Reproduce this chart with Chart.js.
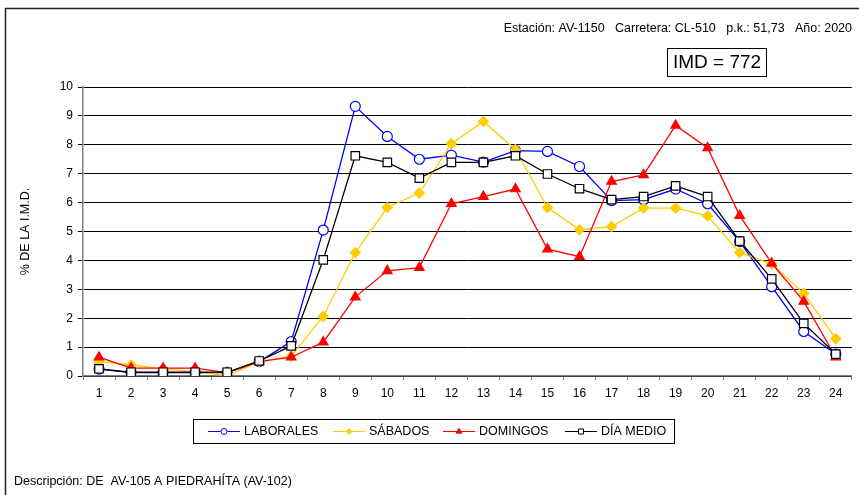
<!DOCTYPE html>
<html>
<head>
<meta charset="utf-8">
<script src="https://cdn.jsdelivr.net/npm/chart.js@4"></script>
<style>
  html, body { margin: 0; padding: 0; background: #fff; }
  #wrap { width: 859px; height: 495px; position: relative; }
</style>
</head>
<body>
<div id="wrap"><canvas id="imdChart" width="859" height="495"></canvas></div>
<script>
// horas del día
const horas = ['1','2','3','4','5','6','7','8','9','10','11','12','13','14','15','16','17','18','19','20','21','22','23','24'];

const laborales = [0.24, 0.12, 0.12, 0.12, 0.12, 0.5, 1.19, 5.05, 9.33, 8.29, 7.5, 7.64, 7.4, 7.8, 7.77, 7.25, 6.07, 6.1, 6.47, 5.96, 4.65, 3.09, 1.54, 0.76];
const sabados = [0.5, 0.38, 0.25, 0.15, 0.0, 0.5, 0.69, 2.06, 4.27, 5.83, 6.33, 8.04, 8.81, 7.83, 5.83, 5.06, 5.17, 5.81, 5.81, 5.54, 4.27, 3.88, 2.86, 1.29];
const domingos = [0.65, 0.27, 0.27, 0.27, 0.12, 0.5, 0.65, 1.17, 2.73, 3.64, 3.75, 5.96, 6.21, 6.47, 4.39, 4.13, 6.73, 6.96, 8.67, 7.89, 5.55, 3.9, 2.58, 0.65];
const diaMedio = [0.25, 0.13, 0.13, 0.13, 0.13, 0.52, 1.04, 4.02, 7.62, 7.39, 6.85, 7.39, 7.39, 7.62, 6.99, 6.48, 6.1, 6.21, 6.58, 6.21, 4.67, 3.36, 1.82, 0.76];

const yTicks = [0, 1, 2, 3, 4, 5, 6, 7, 8, 9, 10];

const cabecera = 'Estación: AV-1150   Carretera: CL-510   p.k.: 51,73   Año: 2020';
const imdTexto = 'IMD = 772';
const descripcion = 'Descripción: DE  AV-105 A PIEDRAHÍTA (AV-102)';

const FONT = '"Liberation Sans", Arial, sans-serif';

// cabecera, caja IMD, leyenda y marco
const decoracion = {
    id: 'decoracion',
    afterDraw(chart) {
        const c = chart.ctx;
        c.save();
        c.strokeStyle = '#222';
        c.lineWidth = 1.5;
        c.beginPath();
        c.moveTo(5.5, 495);
        c.lineTo(5.5, 8.5);
        c.lineTo(859, 8.5);
        c.stroke();

        c.fillStyle = '#000';
        c.font = '12.5px ' + FONT;
        c.textAlign = 'right';
        c.textBaseline = 'middle';
        c.fillText(cabecera, 852, 29);

        c.lineWidth = 1;
        c.strokeStyle = '#000';
        c.strokeRect(667.5, 48.5, 99, 28);
        c.font = '19px ' + FONT;
        c.textAlign = 'center';
        c.fillText(imdTexto, 717, 63);

        c.font = '12.5px ' + FONT;
        c.textAlign = 'left';
        c.fillText(descripcion, 14, 482);

        // leyenda
        c.strokeStyle = '#000';
        c.lineWidth = 1;
        c.strokeRect(193.5, 419.5, 481, 24);
        const posX = [208, 333, 443, 565];
        const cy = 431.5;
        chart.data.datasets.forEach((ds, i) => {
            const x0 = posX[i];
            c.strokeStyle = ds.borderColor;
            c.lineWidth = 1;
            c.beginPath();
            c.moveTo(x0, cy);
            c.lineTo(x0 + 32, cy);
            c.stroke();
            c.fillStyle = ds.pointBackgroundColor;
            c.strokeStyle = ds.pointBorderColor;
            Chart.helpers.drawPoint(c, {
                pointStyle: ds.pointStyle,
                radius: ds.pointRadius * 0.6,
                borderWidth: 1
            }, x0 + 16, cy);
            c.fillStyle = '#000';
            c.font = '12.5px ' + FONT;
            c.textAlign = 'left';
            c.fillText(ds.label, x0 + 36, cy);
        });
        c.restore();
    }
};

function serie(label, data, color, style, fill, radius, order) {
    return {
        label: label,
        data: data,
        borderColor: color,
        backgroundColor: color,
        borderWidth: 1.3,
        pointStyle: style,
        pointRadius: radius,
        pointBackgroundColor: fill,
        pointBorderColor: color,
        pointBorderWidth: 1.2,
        tension: 0,
        order: order
    };
}

new Chart(document.getElementById('imdChart').getContext('2d'), {
    type: 'line',
    data: {
        labels: horas,
        datasets: [
            serie('LABORALES', laborales, '#0000FF', 'circle', '#FFFFFF', 5, 3),
            serie('SÁBADOS', sabados, '#FFCC00', 'rectRot', '#FFCC00', 5, 2),
            serie('DOMINGOS', domingos, '#FF0000', 'triangle', '#FF0000', 5.5, 1),
            serie('DÍA MEDIO', diaMedio, '#000000', 'rect', '#FFFFFF', 6, 0)
        ]
    },
    options: {
        responsive: false,
        animation: false,
        devicePixelRatio: 1,
        layout: { padding: { top: 87, right: 5, bottom: 89, left: 18 } },
        plugins: { legend: { display: false }, tooltip: { enabled: false } },
        scales: {
            x: {
                offset: true,
                afterFit: (s) => { s.height = 30; },
                grid: { offset: true, drawOnChartArea: false, drawTicks: true, tickLength: 4, color: '#808080' },
                border: { color: '#808080', width: 1.5 },
                ticks: { color: '#000', font: { family: FONT, size: 12 }, padding: 6, maxRotation: 0, autoSkip: false }
            },
            y: {
                min: 0,
                max: 10,
                afterFit: (s) => { s.width = 65; },
                afterBuildTicks: (s) => { s.ticks = yTicks.map(v => ({ value: v })); },
                grid: { color: '#000', lineWidth: 1, tickLength: 5 },
                border: { color: '#808080', width: 1.5 },
                ticks: { color: '#000', font: { family: FONT, size: 12 }, padding: 5 },
                title: { display: true, text: '% DE LA I.M.D.', color: '#000', font: { family: FONT, size: 12.5 }, padding: 0 }
            }
        }
    },
    plugins: [decoracion]
});
</script>
</body>
</html>
